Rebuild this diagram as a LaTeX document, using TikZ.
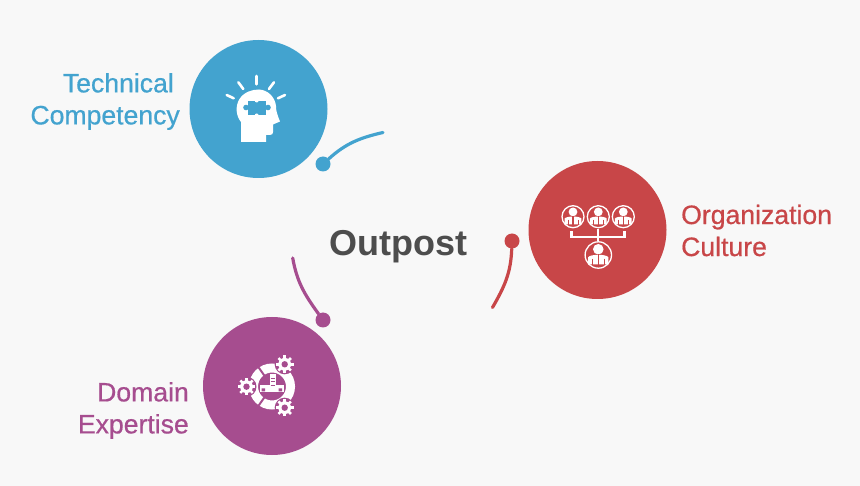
\documentclass[tikz,border=0pt]{standalone}
\usepackage{fontspec}
\setmainfont{Liberation Sans}
\newfontfamily\labelfont[FakeBold=0.6]{Liberation Sans}
\definecolor{techblue}{HTML}{43A3CF}
\definecolor{orgred}{HTML}{C84648}
\definecolor{domainpurple}{HTML}{A64D8F}
\definecolor{pagegrey}{HTML}{F8F8F8}
\definecolor{titlegrey}{HTML}{4D4D4D}
\tikzset{
    bigdisc/.style={circle, fill=#1, minimum size=138pt, inner sep=0pt},
    dot/.style={circle, fill=#1, minimum size=15pt, inner sep=0pt},
    arc line/.style={draw=#1, line width=3.2pt, line cap=round},
    label text/.style={text=#1, inner sep=0pt, font=\labelfont\fontsize{26.6}{32}\selectfont},
    ray/.style={white, line width=2.6pt},
    person/.pic={
        \draw[white, line width=1.3pt] (0,0) circle (11);
        \fill[white] (0,-4.8) circle (4.4);
        \fill[white] (-8.4,7.8) -- (-8.4,1.8) .. controls (-6.5,-0.8) and (6.5,-0.8) .. (8.4,1.8) -- (8.4,7.8) -- cycle;
        \draw[orgred, line width=0.8pt] (-5,3) -- (-5,8.5) (5,3) -- (5,8.5);
        \draw[orgred, line width=1.2pt] (0,-0.5) -- (0,8.5);
    },
    gear/.pic={
        \foreach \a in {0,45,...,315}
            \draw[white, line width=2.5pt] (0,0) -- (\a:8.8);
        \fill[white] (0,0) circle (6.4);
        \fill[domainpurple] (0,0) circle (3.2);
    }
}

\begin{document}
\begin{tikzpicture}[x=1pt, y=-1pt]
\fill[pagegrey] (0,0) rectangle (860,486);
\useasboundingbox (0,0) rectangle (860,486);

% main circles
\node[bigdisc=techblue] (tech) at (258.5,109) {};
\node[bigdisc=orgred] (org) at (597.5,230) {};
\node[bigdisc=domainpurple] (domain) at (272,386) {};

\node[dot=techblue] (techdot) at (323,164) {};
\node[dot=orgred] (orgdot) at (512,241) {};
\node[dot=domainpurple] (domaindot) at (323,320) {};

\coordinate (techend) at (383,132.5);
\coordinate (orgend) at (492.5,307.5);
\coordinate (domainend) at (292.7,258);

\draw[arc line=techblue] (techdot) to[out=42, in=193] (techend);
\draw[arc line=orgred] (orgdot) to[out=268, in=60] (orgend);
\draw[arc line=domainpurple] (domaindot) to[out=126, in=280] (domainend);

% labels
\node[font=\fontsize{36}{40}\selectfont\bfseries, text=titlegrey] (title) at (398,247) {Outpost};
\node[label text=techblue, align=right, anchor=east] (techlabel) at (180,101.5) {Technical\hspace*{6pt}\\Competency};
\node[label text=orgred, align=left, anchor=west] (orglabel) at (681,230.5) {Organization\\Culture};
\node[label text=domainpurple, align=right, anchor=east] (domainlabel) at (189,410.5) {Domain\\Expertise};

% head icon
\fill[white] (241,142) -- (241,122) .. controls (236,116) and (235,106) .. (239.5,99)
    .. controls (244,92) and (252,89.5) .. (259,89.5) .. controls (268,90) and (275,97) .. (276,106)
    .. controls (276,111) and (277,114) .. (280,121.5) -- (273,124.5) -- (273,132)
    .. controls (273,134) and (272,135) .. (270,135) -- (266,135) -- (266,142) -- cycle;
\fill[techblue] (247.5,101) rectangle (266,115);
\fill[techblue] (246,107.5) circle (2.8) (268,107.5) circle (2.8);
\fill[white] (256.7,100.5) circle (2) (256.7,115.5) circle (2);
\foreach \xa/\ya/\xb/\yb in {256.7/76/256.7/84.3, 238.3/82.3/243.3/89, 274/82.3/269/89, 226.7/95/233.7/98.3, 285/95/278/98.3}
    \draw[ray, line cap=round] (\xa,\ya) -- (\xb,\yb);

% people icon
\foreach \px in {573,598.3,623.3}
    \pic at (\px,216.7) {person};
\pic[scale=1.2] at (598.3,255) {person};
\draw[white, line width=2.2pt] (571.5,231.5) -- (571.5,237.3) -- (624.5,237.3) -- (624.5,231.5);
\draw[white, line width=2.2pt] (598.3,229.5) -- (598.3,241);

% gears icon
\draw[white, line width=9pt] (272,386.5) circle (18.5);
\foreach \a in {125,235}
    \draw[domainpurple, line width=2pt] (272,386.5) ++(\a:13) -- ++(\a:11);
\foreach \gx/\gy in {284.7/364.3, 246.5/386.7, 284.7/407.7}
    \fill[domainpurple] (\gx,\gy) circle (10);
\foreach \gx/\gy in {284.7/364.3, 246.5/386.7, 284.7/407.7}
    \pic at (\gx,\gy) {gear};
\fill[white] (260,385) rectangle (283.5,392.5);
\fill[white] (269.5,374) rectangle (276,389);
\draw[domainpurple, line width=0.8pt] (270.5,378) -- (275,378) (270.5,381.5) -- (275,381.5) (270.5,385) -- (275,385);
\fill[domainpurple] (261.5,388.5) rectangle (265,391.5) (278.5,388.5) rectangle (282,391.5);
\end{tikzpicture}
\end{document}
